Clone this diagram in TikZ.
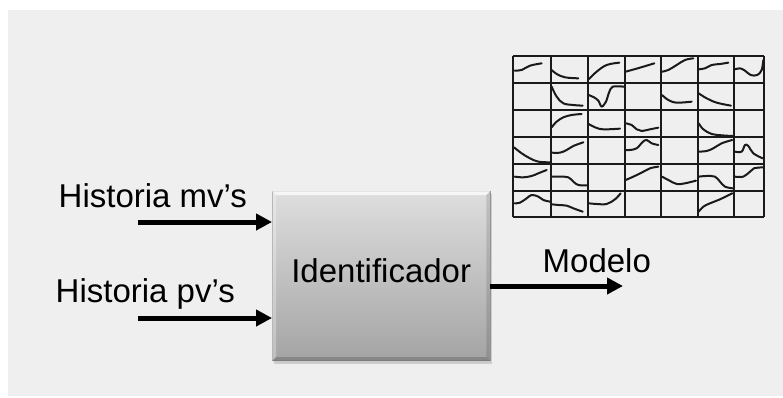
\documentclass[tikz,border=0pt]{standalone}
\usepackage{fontspec}
\setmainfont{Liberation Sans}
\usetikzlibrary{arrows.meta,shadows,calc}
\definecolor{panel}{HTML}{EFEFEF}
\definecolor{boxtop}{HTML}{DEDEDE}
\definecolor{boxbottom}{HTML}{A4A4A4}
\definecolor{ink}{HTML}{1A1A1A}
\begin{document}
\begin{tikzpicture}[x=1pt,y=-1pt,
  lbl/.style={inner sep=0pt, font=\fontsize{33}{36}\selectfont, anchor=base west},
  flow/.style={line width=5pt, draw=black, -{Triangle[length=16pt,width=16pt]}},
  block/.style={minimum width=217.7pt, minimum height=169.4pt, inner sep=0pt,
    top color=boxtop, bottom color=boxbottom, draw=black!40, line width=0.6pt,
    font=\fontsize{33}{36}\selectfont, text depth=10pt,
    drop shadow={opacity=0.3, shadow xshift=1.5pt, shadow yshift=-3pt}},
  trace/.style={line width=2pt, draw=ink, line cap=round, line join=round},
  gridline/.style={line width=1.9pt, draw=ink}]

% page and panel
\useasboundingbox (0,0) rectangle (783,398);
\fill[white] (0,0) rectangle (783,398);
\fill[panel] (8,10) rectangle (783,396);

% identifier block
\node[block] (ident) at (381.2,276) {Identificador};
% bevel edges
\fill[white, opacity=0.75] (ident.north west) -- (ident.north east)
  -- ($(ident.north east)+(-4,4)$) -- ($(ident.north west)+(4,4)$) -- cycle;
\fill[white, opacity=0.3] (ident.north west) -- ($(ident.north west)+(4,4)$)
  -- ($(ident.south west)+(4,-4)$) -- (ident.south west) -- cycle;
\fill[black, opacity=0.12] (ident.north east) -- ($(ident.north east)+(-4,4)$)
  -- ($(ident.south east)+(-4,-4)$) -- (ident.south east) -- cycle;
\fill[black, opacity=0.18] (ident.south west) -- ($(ident.south west)+(4,-4)$)
  -- ($(ident.south east)+(-4,-4)$) -- (ident.south east) -- cycle;

% labels
\node[lbl] (mvlbl) at (58.5,207) {Historia mv’s};
\node[lbl] (pvlbl) at (55.5,302) {Historia pv’s};
\node[lbl] (modlbl) at (542.5,272) {Modelo};

% signal arrows
\coordinate (mvstart) at (138,222);
\coordinate (pvstart) at (138,318);
\coordinate (outend) at (623,286);
\draw[flow] (mvstart) -- (ident.west |- mvstart);
\draw[flow] (pvstart) -- (ident.west |- pvstart);
\draw[flow] (ident.east |- outend) -- (outend);

% table of step responses
\begin{scope}[shift={(500,40)}, scale=0.3333]
  \foreach \gx in {40,152,264,375,483,593,702,792}
    \draw[gridline] (\gx,47) -- (\gx,530);
  \foreach \gy in {47,128,210,292,372,452,530}
    \draw[gridline] (40,\gy) -- (792,\gy);
  % row 1
  \draw[trace] plot[smooth, tension=0.6] coordinates {(44,92) (65,90) (90,77) (125,70)};
  \draw[trace] plot[smooth, tension=0.6] coordinates {(155,90) (170,102) (195,112) (235,115)};
  \draw[trace] plot[smooth, tension=0.6] coordinates {(266,118) (290,95) (320,75) (358,68)};
  \draw[trace] plot[smooth, tension=0.6] coordinates {(377,95) (420,83) (463,70)};
  \draw[trace] plot[smooth, tension=0.6] coordinates {(486,95) (505,90) (530,75) (555,60) (580,55)};
  \draw[trace] plot[smooth, tension=0.6] coordinates {(596,88) (615,85) (635,75) (660,72) (685,68)};
  \draw[trace] plot[smooth, tension=0.6] coordinates {(705,88) (720,85) (735,92) (752,105) (772,105) (785,90) (790,60)};
  % row 2
  \draw[trace] plot[smooth, tension=0.6] coordinates {(155,140) (170,170) (190,190) (220,195) (248,197)};
  \draw[trace] plot[smooth, tension=0.5] coordinates {(266,165) (282,172) (295,182) (305,200) (318,185) (327,158) (338,140) (372,140)};
  \draw[trace] plot[smooth, tension=0.6] coordinates {(486,165) (505,180) (530,188) (575,185)};
  \draw[trace] plot[smooth, tension=0.6] coordinates {(596,160) (620,175) (650,188) (693,197)};
  % row 3
  \draw[trace] plot[smooth, tension=0.6] coordinates {(155,262) (170,245) (190,232) (215,225) (245,222)};
  \draw[trace] plot[smooth, tension=0.6] coordinates {(266,252) (285,262) (310,268) (360,266)};
  \draw[trace] plot[smooth, tension=0.6] coordinates {(377,250) (395,255) (410,268) (425,273) (450,268) (475,263)};
  \draw[trace] plot[smooth, tension=0.6] coordinates {(596,250) (610,268) (635,282) (665,286) (698,288)};
  % row 4
  \draw[trace] plot[smooth, tension=0.6] coordinates {(42,322) (65,340) (90,355) (115,365) (150,367)};
  \draw[trace] plot[smooth, tension=0.6] coordinates {(155,338) (180,338) (200,330) (220,318) (250,307)};
  \draw[trace] plot[smooth, tension=0.6] coordinates {(377,330) (390,330) (410,325) (428,306) (440,300) (455,310) (475,315)};
  \draw[trace] plot[smooth, tension=0.6] coordinates {(596,335) (620,333) (640,325) (665,310) (697,300)};
  \draw[trace] plot[smooth, tension=0.6] coordinates {(705,335) (725,335) (735,315) (745,318) (760,340) (788,355)};
  % row 5
  \draw[trace] plot[smooth, tension=0.6] coordinates {(44,410) (70,412) (95,408) (115,400) (140,390)};
  \draw[trace] plot[smooth, tension=0.6] coordinates {(155,410) (180,410) (205,412) (220,425) (235,435) (262,436)};
  \draw[trace] plot[smooth, tension=0.6] coordinates {(377,420) (400,410) (425,398) (450,385) (475,380)};
  \draw[trace] plot[smooth, tension=0.6] coordinates {(486,410) (505,420) (530,432) (555,430) (588,422)};
  \draw[trace] plot[smooth, tension=0.6] coordinates {(596,410) (620,408) (645,410) (660,425) (675,440) (698,445)};
  \draw[trace] plot[smooth, tension=0.6] coordinates {(705,410) (730,410) (750,395) (762,385) (788,382)};
  % row 6
  \draw[trace] plot[smooth, tension=0.6] coordinates {(44,490) (60,488) (80,475) (95,465) (115,470) (130,480) (150,485)};
  \draw[trace] plot[smooth, tension=0.6] coordinates {(155,493) (175,495) (200,497) (220,505) (248,515)};
  \draw[trace] plot[smooth, tension=0.6] coordinates {(266,490) (290,492) (320,492) (345,478) (362,460)};
  \draw[trace] plot[smooth, tension=0.6] coordinates {(596,515) (610,500) (630,490) (660,478) (697,460)};
\end{scope}
\end{tikzpicture}
\end{document}
